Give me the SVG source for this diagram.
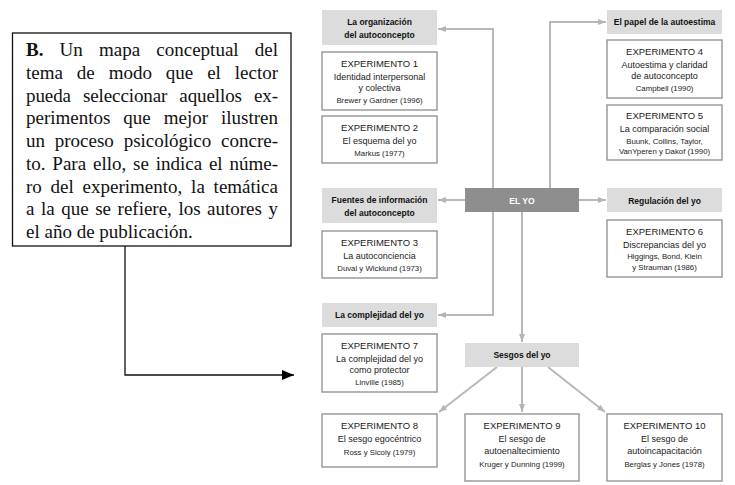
<svg xmlns="http://www.w3.org/2000/svg" width="735" height="485" viewBox="0 0 735 485">
<defs>
<marker id="ag" viewBox="0 0 8 6" refX="8" refY="3" markerWidth="8" markerHeight="6" markerUnits="userSpaceOnUse" orient="auto"><path d="M0,0 L8,3 L0,6 z" fill="#b5b5b5"/></marker>
<marker id="ab" viewBox="0 0 12 10" refX="12" refY="5" markerWidth="12" markerHeight="10" markerUnits="userSpaceOnUse" orient="auto"><path d="M0,0 L12,5 L0,10 z" fill="#000"/></marker>
<style>
.hd{fill:#dcdcdc}
.bx{fill:#fff;stroke:#959595;stroke-width:1.4}
.ht{font-family:"Liberation Sans",Arial,sans-serif;font-weight:bold;font-size:8.5px;fill:#111;text-anchor:middle}
.t1{font-family:"Liberation Sans",Arial,sans-serif;font-size:9.5px;fill:#1a1a1a;text-anchor:middle}
.t2{font-family:"Liberation Sans",Arial,sans-serif;font-size:9px;fill:#222;text-anchor:middle}
.t3{font-family:"Liberation Sans",Arial,sans-serif;font-size:7.8px;fill:#222;text-anchor:middle}
.cn{fill:none;stroke:#b8b8b8;stroke-width:2;marker-end:url(#ag)}
.bt{font-family:"Liberation Serif","Times New Roman",serif;font-size:19px;fill:#111}
</style>
</defs>
<rect width="735" height="485" fill="#fff"/>

<g id="note">
<rect x="12.5" y="33" width="278.5" height="213" fill="#fff" stroke="#111" stroke-width="1.3"/>
<text class="bt" x="26" y="56" word-spacing="11.4" textLength="252" lengthAdjust="spacing"><tspan font-weight="bold">B.</tspan> Un mapa conceptual del</text>
<text class="bt" x="26" y="78.75" word-spacing="9.2" textLength="252" lengthAdjust="spacing">tema de modo que el lector</text>
<text class="bt" x="26" y="101.5" word-spacing="7.4" textLength="252" lengthAdjust="spacing">pueda seleccionar aquellos ex-</text>
<text class="bt" x="26" y="124.25" word-spacing="8.2" textLength="252" lengthAdjust="spacing">perimentos que mejor ilustren</text>
<text class="bt" x="26" y="147" word-spacing="5" textLength="252" lengthAdjust="spacing">un proceso psicológico concre-</text>
<text class="bt" x="26" y="169.75" word-spacing="2.1" textLength="252" lengthAdjust="spacing">to. Para ello, se indica el núme-</text>
<text class="bt" x="26" y="192.5" word-spacing="4" textLength="252" lengthAdjust="spacing">ro del experimento, la temática</text>
<text class="bt" x="26" y="215.25" word-spacing="1.8" textLength="252" lengthAdjust="spacing">a la que se refiere, los autores y</text>
<text class="bt" x="26" y="238">el año de publicación.</text>
</g>

<g id="connectors">
<path d="M125,246 V375 H294" fill="none" stroke="#111" stroke-width="1.3" marker-end="url(#ab)"/>
<path class="cn" d="M493,188 V29 H438"/>
<path class="cn" d="M550,188 V22 H606"/>
<path class="cn" d="M465,200 H438"/>
<path class="cn" d="M579,200 H606"/>
<path class="cn" d="M493,212 V315 H438"/>
<path class="cn" d="M522,212 V342"/>
<path class="cn" d="M497,367 L439,412"/>
<path class="cn" d="M522,367 V412"/>
<path class="cn" d="M548,367 L605,412"/>
</g>

<g id="h-organizacion">
<rect class="hd" x="322" y="10" width="115" height="35"/>
<text class="ht" x="379.5" y="25">La organización</text>
<text class="ht" x="379.5" y="38">del autoconcepto</text>
</g>
<g id="exp1">
<rect class="bx" x="322" y="52" width="115" height="58"/>
<text class="t1" x="379.5" y="67">EXPERIMENTO 1</text>
<text class="t2" x="379.5" y="80">Identidad interpersonal</text>
<text class="t2" x="379.5" y="90.5">y colectiva</text>
<text class="t3" x="379.5" y="102.5">Brewer y Gardner (1996)</text>
</g>
<g id="exp2">
<rect class="bx" x="322" y="116" width="115" height="47"/>
<text class="t1" x="379.5" y="130.5">EXPERIMENTO 2</text>
<text class="t2" x="379.5" y="143.5">El esquema del yo</text>
<text class="t3" x="379.5" y="155.5">Markus (1977)</text>
</g>
<g id="h-fuentes">
<rect class="hd" x="322" y="188" width="115" height="35"/>
<text class="ht" x="379.5" y="202.5">Fuentes de información</text>
<text class="ht" x="379.5" y="215.5">del autoconcepto</text>
</g>
<g id="exp3">
<rect class="bx" x="322" y="231" width="115" height="47"/>
<text class="t1" x="379.5" y="245.5">EXPERIMENTO 3</text>
<text class="t2" x="379.5" y="258.5">La autoconciencia</text>
<text class="t3" x="379.5" y="270.5">Duval y Wicklund (1973)</text>
</g>
<g id="h-complejidad">
<rect class="hd" x="322" y="303" width="115" height="24"/>
<text class="ht" x="379.5" y="318">La complejidad del yo</text>
</g>
<g id="exp7">
<rect class="bx" x="322" y="334" width="115" height="58"/>
<text class="t1" x="379.5" y="348.5">EXPERIMENTO 7</text>
<text class="t2" x="379.5" y="361.5">La complejidad del yo</text>
<text class="t2" x="379.5" y="372.5">como protector</text>
<text class="t3" x="379.5" y="384.5">Linville (1985)</text>
</g>

<g id="el-yo">
<rect x="465" y="188" width="114" height="24" fill="#8e8e8e"/>
<text class="ht" x="522" y="203.5" style="fill:#fff;font-size:8.6px">EL YO</text>
</g>
<g id="h-sesgos">
<rect class="hd" x="465" y="343" width="114" height="24"/>
<text class="ht" x="522" y="358">Sesgos del yo</text>
</g>

<g id="h-autoestima">
<rect class="hd" x="607" y="10" width="115" height="24"/>
<text class="ht" x="664.5" y="25">El papel de la autoestima</text>
</g>
<g id="exp4">
<rect class="bx" x="607" y="40" width="115" height="58"/>
<text class="t1" x="664.5" y="54.5">EXPERIMENTO 4</text>
<text class="t2" x="664.5" y="67.5">Autoestima y claridad</text>
<text class="t2" x="664.5" y="78.5">de autoconcepto</text>
<text class="t3" x="664.5" y="90.5">Campbell (1990)</text>
</g>
<g id="exp5">
<rect class="bx" x="607" y="105" width="115" height="55"/>
<text class="t1" x="664.5" y="119">EXPERIMENTO 5</text>
<text class="t2" x="664.5" y="132">La comparación social</text>
<text class="t3" x="664.5" y="143.5">Buunk, Collins, Taylor,</text>
<text class="t3" x="664.5" y="153.5">VanYperen y Dakof (1990)</text>
</g>
<g id="h-regulacion">
<rect class="hd" x="607" y="188" width="115" height="24"/>
<text class="ht" x="664.5" y="203.5">Regulación del yo</text>
</g>
<g id="exp6">
<rect class="bx" x="607" y="220" width="115" height="57"/>
<text class="t1" x="664.5" y="234.5">EXPERIMENTO 6</text>
<text class="t2" x="664.5" y="247.5">Discrepancias del yo</text>
<text class="t3" x="664.5" y="259">Higgings, Bond, Klein</text>
<text class="t3" x="664.5" y="269.5">y Strauman (1986)</text>
</g>

<g id="exp8">
<rect class="bx" x="322" y="414" width="115" height="53"/>
<text class="t1" x="379.5" y="428.5">EXPERIMENTO 8</text>
<text class="t2" x="379.5" y="442">El sesgo egocéntrico</text>
<text class="t3" x="379.5" y="454.5">Ross y Sicoly (1979)</text>
</g>
<g id="exp9">
<rect class="bx" x="465" y="414" width="114" height="67"/>
<text class="t1" x="522" y="428.5">EXPERIMENTO 9</text>
<text class="t2" x="522" y="442">El sesgo de</text>
<text class="t2" x="522" y="453.5">autoenaltecimiento</text>
<text class="t3" x="522" y="466.5">Kruger y Dunning (1999)</text>
</g>
<g id="exp10">
<rect class="bx" x="607" y="414" width="115" height="67"/>
<text class="t1" x="664.5" y="428.5">EXPERIMENTO 10</text>
<text class="t2" x="664.5" y="442">El sesgo de</text>
<text class="t2" x="664.5" y="453.5">autoincapacitación</text>
<text class="t3" x="664.5" y="466.5">Berglas y Jones (1978)</text>
</g>
</svg>
